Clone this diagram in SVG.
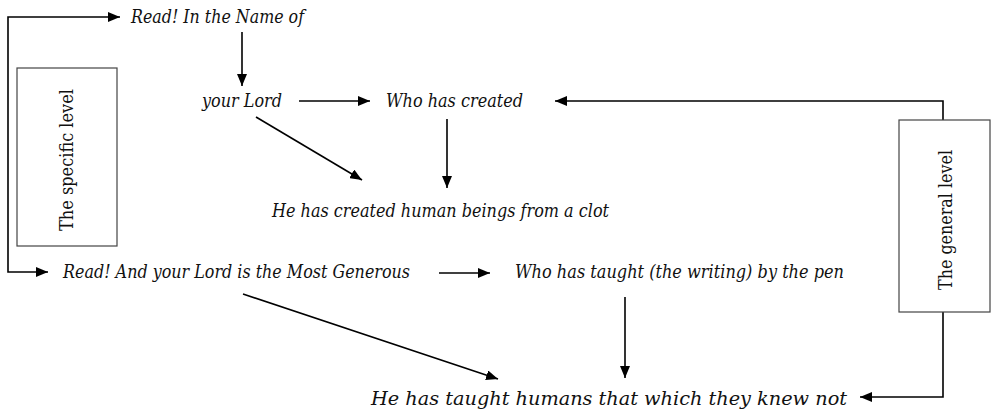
<svg xmlns="http://www.w3.org/2000/svg" width="994" height="414" viewBox="0 0 994 414">
<defs>
<marker id="ah" viewBox="0 0 12 10" refX="12" refY="5" markerWidth="12" markerHeight="10" markerUnits="userSpaceOnUse" orient="auto">
<path d="M0,0 L12,5 L0,10 z" fill="#000"/>
</marker>
</defs>
<style>
.t{font-family:"DejaVu Serif","Liberation Serif",serif;font-style:italic;font-stretch:condensed;font-size:19px;fill:#111}
.v{font-family:"DejaVu Serif","Liberation Serif",serif;font-stretch:condensed;font-size:19px;fill:#111}
.c{fill:none;stroke:#000;stroke-width:1.6}
.a{marker-end:url(#ah)}
.b{fill:#fff;stroke:#444;stroke-width:1.2}
</style>
<rect width="994" height="414" fill="#fff"/>
<g id="connectors">
<polyline class="c a" points="8,190 8,17 120,17"/>
<polyline class="c a" points="8,190 8,272 48,272"/>
<line class="c a" x1="242" y1="32" x2="242" y2="86"/>
<line class="c a" x1="299" y1="101" x2="370" y2="101"/>
<polyline class="c a" points="943,120 943,101 555,101"/>
<polyline class="c a" points="943,312 943,397 860,397"/>
<line class="c a" x1="256" y1="117" x2="362" y2="180"/>
<line class="c a" x1="447" y1="119" x2="447" y2="188"/>
<line class="c a" x1="439" y1="273" x2="490" y2="273"/>
<line class="c a" x1="625" y1="297" x2="625" y2="378"/>
<line class="c a" x1="243" y1="294" x2="498" y2="379"/>
</g>
<g id="specific">
<rect class="b" x="17" y="68" width="100" height="178"/>
<text class="v" transform="translate(73,160) rotate(-90)" text-anchor="middle" textLength="142" lengthAdjust="spacingAndGlyphs">The specific level</text>
</g>
<g id="general">
<rect class="b" x="899" y="120" width="91" height="192"/>
<text class="v" transform="translate(952,220) rotate(-90)" text-anchor="middle" textLength="140" lengthAdjust="spacingAndGlyphs">The general level</text>
</g>
<g id="n1"><text class="t" x="131" y="23" textLength="173" lengthAdjust="spacingAndGlyphs">Read! In the Name of</text></g>
<g id="n2"><text class="t" x="202" y="107" textLength="80" lengthAdjust="spacingAndGlyphs">your Lord</text></g>
<g id="n3"><text class="t" x="386" y="107" textLength="137" lengthAdjust="spacingAndGlyphs">Who has created</text></g>
<g id="n4"><text class="t" x="272" y="217" textLength="337" lengthAdjust="spacingAndGlyphs">He has created human beings from a clot</text></g>
<g id="n5"><text class="t" x="63" y="278" textLength="347" lengthAdjust="spacingAndGlyphs">Read! And your Lord is the Most Generous</text></g>
<g id="n6"><text class="t" x="515" y="278" textLength="329" lengthAdjust="spacingAndGlyphs">Who has taught (the writing) by the pen</text></g>
<g id="n7"><text class="t" x="371" y="405" textLength="476" lengthAdjust="spacingAndGlyphs">He has taught humans that which they knew not</text></g>
</svg>
